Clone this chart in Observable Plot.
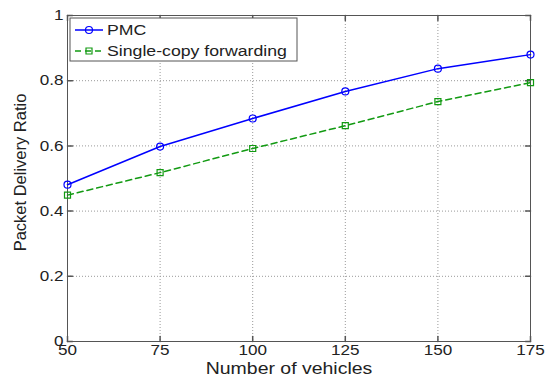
<!DOCTYPE html>
<html>
<head>
<meta charset="utf-8">
<script src="https://cdn.jsdelivr.net/npm/d3@7"></script>
<script src="https://cdn.jsdelivr.net/npm/@observablehq/plot@0.6"></script>
<style>
  html, body { margin: 0; padding: 0; background: #fff; }
  #chart svg { display: block; font-family: "Liberation Sans", Arial, sans-serif; }
</style>
</head>
<body>
<div id="chart"></div>
<script>
// ---- data ----
const vehicles = [50, 75, 100, 125, 150, 175];
const pmc = [0.481, 0.598, 0.684, 0.767, 0.837, 0.880];
const singleCopy = [0.449, 0.518, 0.592, 0.662, 0.736, 0.794];
const seriesNames = ["PMC", "Single-copy forwarding"];
const xTicks = [50, 75, 100, 125, 150, 175];
const yTicks = [0, 0.2, 0.4, 0.6, 0.8, 1];
const yTickLabels = ["0", "0.2", "0.4", "0.6", "0.8", "1"];
const xLabel = "Number of vehicles";
const yLabel = "Packet Delivery Ratio";

const blue = "#0000ff";
const green = "#129a12";

const pmcData = vehicles.map((v, i) => ({x: v, y: pmc[i]}));
const scData = vehicles.map((v, i) => ({x: v, y: singleCopy[i]}));

const tickLine = { draw(context, l) { context.moveTo(0, 0); context.lineTo(0, -l); } };

const plot = Plot.plot({
  width: 552,
  height: 376,
  marginLeft: 67,
  marginRight: 22,
  marginTop: 15,
  marginBottom: 35,
  style: {fontFamily: "Liberation Sans, Arial, sans-serif", color: "#222", background: "#fff"},
  x: {domain: [50, 175]},
  y: {domain: [0, 1]},
  marks: [
    Plot.gridX(xTicks, {stroke: "#999", strokeOpacity: 1, strokeDasharray: "1,2"}),
    Plot.gridY(yTicks, {stroke: "#999", strokeOpacity: 1, strokeDasharray: "1,2"}),
    Plot.frame({stroke: "#555"}),
    // inward ticks
    Plot.vector(yTicks, {y: d => d, frameAnchor: "left", rotate: 90, length: 5, anchor: "start", shape: tickLine, stroke: "#555"}),
    Plot.vector(yTicks, {y: d => d, frameAnchor: "right", rotate: -90, length: 5, anchor: "start", shape: tickLine, stroke: "#555"}),
    Plot.vector(xTicks, {x: d => d, frameAnchor: "bottom", rotate: 0, length: 5, anchor: "start", shape: tickLine, stroke: "#555"}),
    Plot.vector(xTicks, {x: d => d, frameAnchor: "top", rotate: 180, length: 5, anchor: "start", shape: tickLine, stroke: "#555"}),
    Plot.axisX({ticks: xTicks, tickSize: 0, tickPadding: 3, fontSize: 14.5, label: null, tickFormat: d => String(d), className: "xt"}),
    Plot.axisY({ticks: yTicks, tickSize: 0, tickPadding: 4, fontSize: 14.5, label: null, tickFormat: d => yTickLabels[yTicks.indexOf(d)], className: "yt"}),
    Plot.line(scData, {x: "x", y: "y", stroke: green, strokeWidth: 1.5, strokeDasharray: "6,4"}),
    Plot.dot(scData, {x: "x", y: "y", symbol: "square", r: 3.4, stroke: green, strokeWidth: 1.2, fill: "none"}),
    Plot.line(pmcData, {x: "x", y: "y", stroke: blue, strokeWidth: 1.5}),
    Plot.dot(pmcData, {x: "x", y: "y", symbol: "circle", r: 3.5, stroke: blue, strokeWidth: 1.2, fill: "none"}),
    Plot.text([xLabel], {frameAnchor: "bottom", dy: 32, dx: -10, text: d => d, fontSize: 16.5, fill: "#222", textAnchor: "middle", className: "xl"}),
    Plot.text([yLabel], {frameAnchor: "left", dx: -47, dy: -6, rotate: -90, text: d => d, fontSize: 16.5, fill: "#222", textAnchor: "middle"})
  ]
});
document.getElementById("chart").appendChild(plot);

// ---- legend (inside plot, upper left) ----
const svg = d3.select(plot);
const leg = svg.append("g").attr("class", "legend").attr("text-anchor", "start");
const lx = 70, ly = 18, lw = 227, lh = 43;
leg.append("rect").attr("x", lx).attr("y", ly).attr("width", lw).attr("height", lh)
  .attr("fill", "#fff").attr("stroke", "#555");
const entries = [
  {name: seriesNames[0], color: blue, dash: null, symbol: d3.symbolCircle, size: Math.PI * 3.5 * 3.5},
  {name: seriesNames[1], color: green, dash: "6,4", symbol: d3.symbolSquare, size: 36}
];
entries.forEach((e, i) => {
  const cy = ly + 12 + i * 21;
  leg.append("line").attr("x1", lx + 5).attr("x2", lx + 33).attr("y1", cy).attr("y2", cy)
    .attr("stroke", e.color).attr("stroke-width", 1.5).attr("stroke-dasharray", e.dash);
  leg.append("path").attr("d", d3.symbol(e.symbol, e.size)()).attr("transform", `translate(${lx + 19},${cy})`)
    .attr("fill", "none").attr("stroke", e.color).attr("stroke-width", 1.2);
  leg.append("text").attr("class", "legtext").attr("x", lx + 37).attr("y", cy).attr("dy", "0.35em")
    .attr("text-anchor", "start").attr("font-size", 15).attr("fill", "#222").text(e.name);
});

// ---- widen horizontal texts slightly (the reference's type is horizontally stretched) ----
const SX = 1.18;
function stretch(el, anchor) {
  const b = el.getBBox();
  const ax = anchor === "end" ? b.x + b.width : anchor === "start" ? b.x : b.x + b.width / 2;
  const prev = el.getAttribute("transform") || "";
  el.setAttribute("transform", `${prev} translate(${ax},0) scale(${SX},1) translate(${-ax},0)`);
}
plot.querySelectorAll("g.xt text").forEach(el => stretch(el, "middle"));
plot.querySelectorAll("g.yt text").forEach(el => stretch(el, "end"));
plot.querySelectorAll("g.xl text").forEach(el => stretch(el, "middle"));
plot.querySelectorAll("text.legtext").forEach(el => stretch(el, "start"));
</script>
</body>
</html>
